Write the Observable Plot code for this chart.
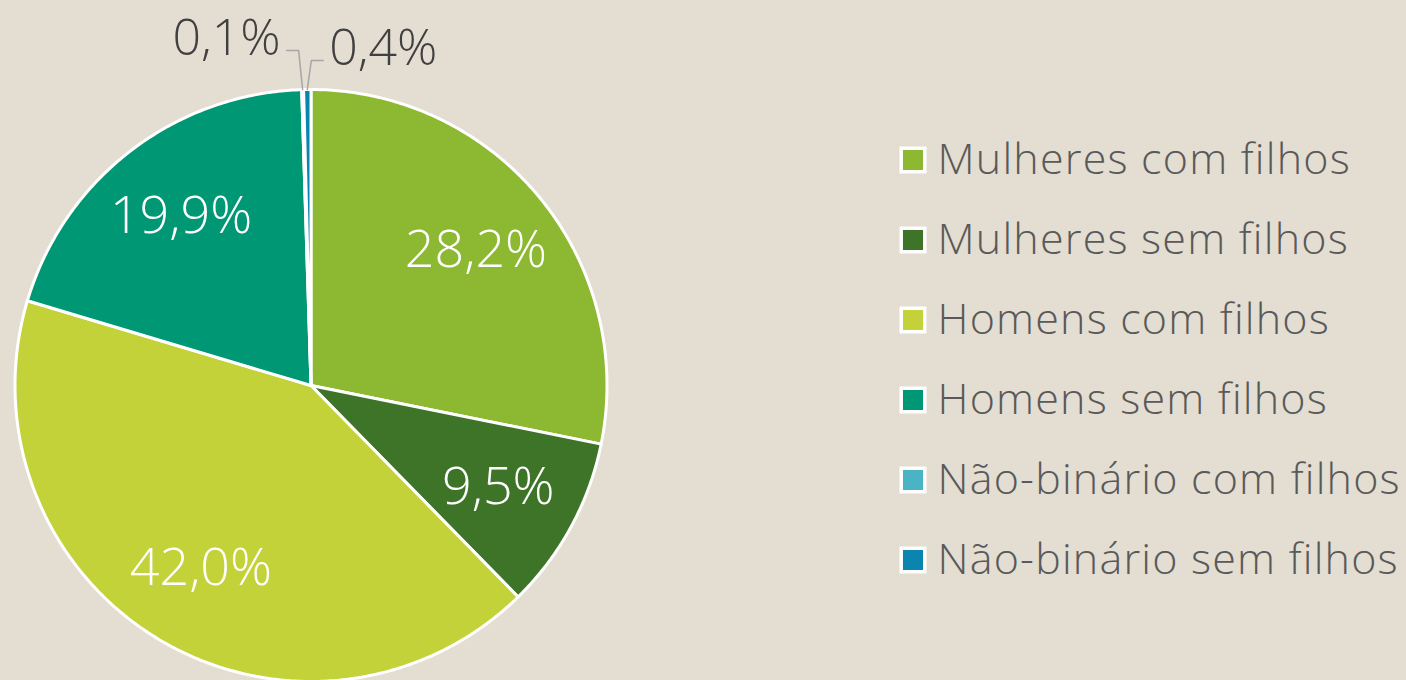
<!DOCTYPE html>
<html>
<head>
<meta charset="utf-8">
<script src="https://cdn.jsdelivr.net/npm/d3@7"></script>
<script src="https://cdn.jsdelivr.net/npm/@observablehq/plot@0.6"></script>
<style>
  html, body { margin: 0; padding: 0; background: #E3DDD2; }
  #chart svg { display: block; }
  #chart svg > g:last-of-type text { letter-spacing: 1.2px; }
</style>
</head>
<body>
<div id="chart"></div>
<script>
// ---- data ----
const categories = [
  "Mulheres com filhos",
  "Mulheres sem filhos",
  "Homens com filhos",
  "Homens sem filhos",
  "Não-binário com filhos",
  "Não-binário sem filhos"
];
const values = [28.2, 9.5, 42.0, 19.9, 0.1, 0.4];
const colors = ["#8DB832", "#3E7428", "#C4D23A", "#009774", "#4BB4C4", "#0A85B0"];

// ---- layout ----
const W = 1406, H = 680;
const cx = 310.5, cy = 385, R = 296;
const fmt = v => v.toFixed(1).replace(".", ",") + "%";
const pie = d3.pie().sort(null).value(d => d)(values);

// slice polygons
const slicePts = [];
pie.forEach((p, i) => {
  const cat = categories[i];
  slicePts.push({cat, x: cx, y: cy});
  const n = Math.max(2, Math.ceil((p.endAngle - p.startAngle) / 0.01));
  for (let k = 0; k <= n; k++) {
    const a = p.startAngle + (p.endAngle - p.startAngle) * k / n;
    slicePts.push({cat, x: cx + R * Math.sin(a), y: cy - R * Math.cos(a)});
  }
  slicePts.push({cat, x: cx, y: cy});
});

// inside labels (large slices)
const inside = pie.map((p, i) => ({p, i})).filter(d => values[d.i] >= 5).map(({p, i}) => {
  const a = (p.startAngle + p.endAngle) / 2;
  return {x: cx + 0.72 * R * Math.sin(a), y: cy - 0.72 * R * Math.cos(a), label: fmt(values[i])};
});

// outside labels with leader lines (small slices)
const outsideLayout = [{i: 4, side: -1, lift: 39}, {i: 5, side: 1, lift: 29}];
const leaderPts = [];
const outside = outsideLayout.map(({i, side, lift}) => {
  const p = pie[i];
  const a = (p.startAngle + p.endAngle) / 2;
  const ax = cx + R * Math.sin(a), ay = cy - R * Math.cos(a);
  const ex = ax + side * 4, ey = ay - lift;
  const hx = ex + side * 12;
  leaderPts.push({k: i, x: ax, y: ay}, {k: i, x: ex, y: ey}, {k: i, x: hx, y: ey});
  return {x: hx + side * 6, y: ey - 12, label: fmt(values[i]), anchor: side < 0 ? "end" : "start"};
});

// legend
const legend = categories.map((c, i) => ({cat: c, x: 912.5, y: 159.5 + 80 * i}));

const chart = Plot.plot({
  width: W,
  height: H,
  margin: 0,
  style: {background: "#E3DDD2", fontFamily: "'Open Sans', sans-serif"},
  x: {type: "identity", axis: null},
  y: {type: "identity", axis: null},
  color: {domain: categories, range: colors},
  marks: [
    Plot.line(slicePts, {x: "x", y: "y", z: "cat", fill: "cat", stroke: "white", strokeWidth: 3, strokeLinejoin: "round"}),
    Plot.text(inside, {x: "x", y: "y", text: "label", fill: "white", fontSize: 52, fontWeight: 300}),
    Plot.line(leaderPts, {x: "x", y: "y", z: "k", stroke: "#A6A6A6", strokeWidth: 1.5}),
    Plot.text(outside.filter(d => d.anchor === "end"), {x: "x", y: "y", text: "label", fill: "#404040", fontSize: 50, fontWeight: 300, textAnchor: "end"}),
    Plot.text(outside.filter(d => d.anchor === "start"), {x: "x", y: "y", text: "label", fill: "#404040", fontSize: 50, fontWeight: 300, textAnchor: "start"}),
    Plot.dot(legend, {x: "x", y: "y", symbol: "square", r: 13.3, fill: "cat", stroke: "white", strokeWidth: 3.5}),
    Plot.text(legend, {x: d => d.x + 24.5, y: "y", text: "cat", fill: "#595959", fontSize: 43, fontWeight: 300, textAnchor: "start"})
  ]
});
document.getElementById("chart").appendChild(chart);
</script>
</body>
</html>
